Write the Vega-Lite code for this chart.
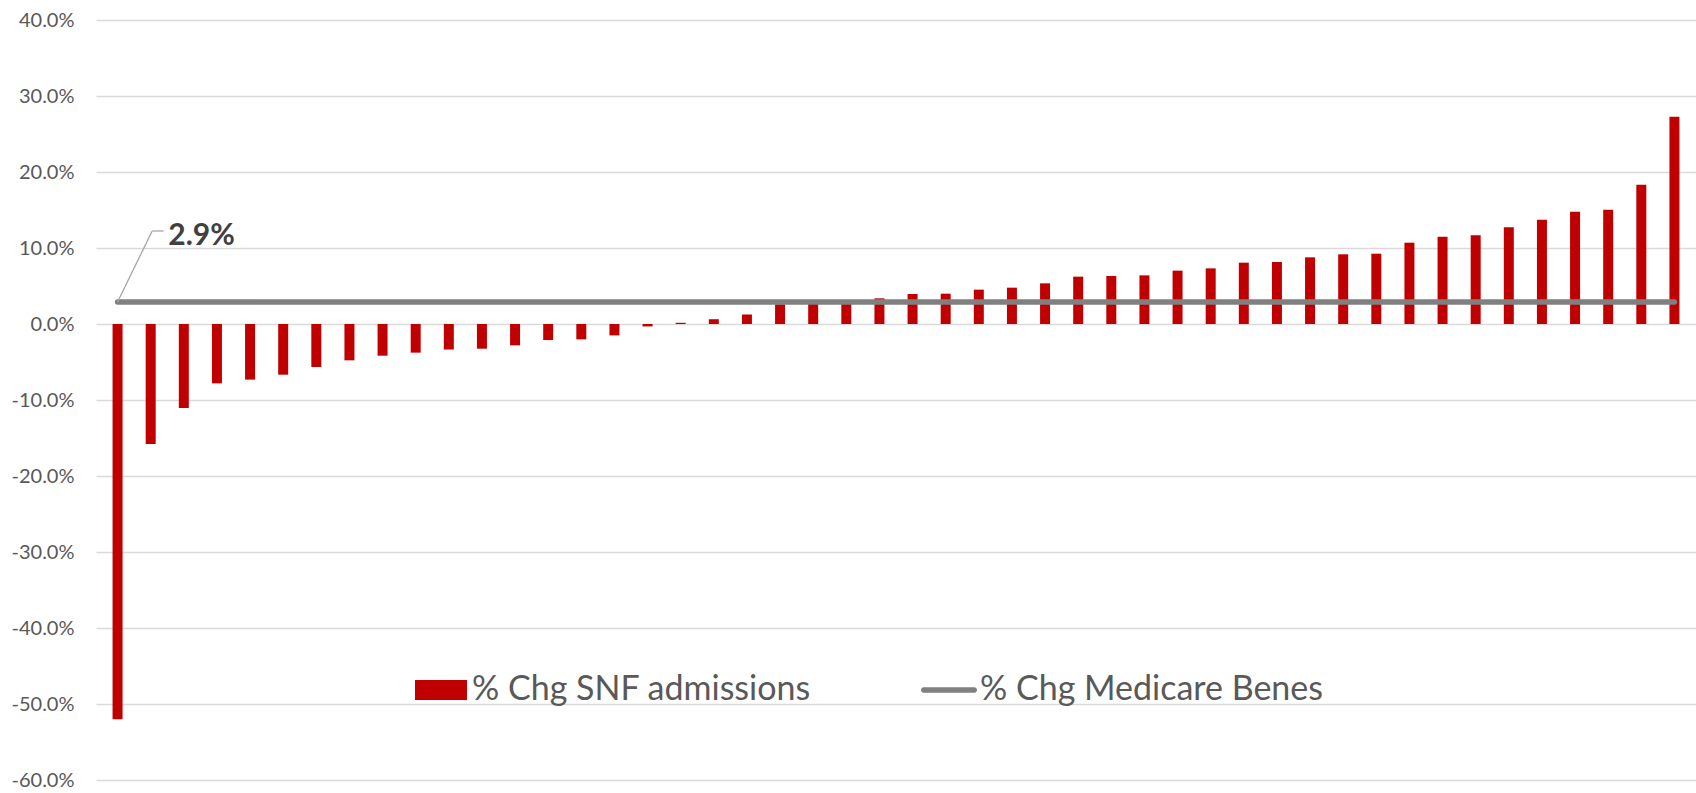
{
  "$schema": "https://vega.github.io/schema/vega-lite/v6.json",
  "width": 1600,
  "height": 760,
  "autosize": {"type": "none"},
  "padding": {"left": 96, "top": 20, "right": 0, "bottom": 13},
  "background": "white",
  "config": {"view": {"stroke": null}, "font": "Lato"},
  "datasets": {
    "snf": [
      {"rank": 1, "pct": -0.52},
      {"rank": 2, "pct": -0.158},
      {"rank": 3, "pct": -0.1105},
      {"rank": 4, "pct": -0.0781},
      {"rank": 5, "pct": -0.0732},
      {"rank": 6, "pct": -0.0667},
      {"rank": 7, "pct": -0.0566},
      {"rank": 8, "pct": -0.0478},
      {"rank": 9, "pct": -0.0417},
      {"rank": 10, "pct": -0.0377},
      {"rank": 11, "pct": -0.0336},
      {"rank": 12, "pct": -0.0325},
      {"rank": 13, "pct": -0.0281},
      {"rank": 14, "pct": -0.0211},
      {"rank": 15, "pct": -0.0202},
      {"rank": 16, "pct": -0.015},
      {"rank": 17, "pct": -0.0032},
      {"rank": 18, "pct": 0.0016},
      {"rank": 19, "pct": 0.0063},
      {"rank": 20, "pct": 0.0125},
      {"rank": 21, "pct": 0.026},
      {"rank": 22, "pct": 0.027},
      {"rank": 23, "pct": 0.029},
      {"rank": 24, "pct": 0.0338},
      {"rank": 25, "pct": 0.0395},
      {"rank": 26, "pct": 0.0399},
      {"rank": 27, "pct": 0.0452},
      {"rank": 28, "pct": 0.0478},
      {"rank": 29, "pct": 0.0535},
      {"rank": 30, "pct": 0.0623},
      {"rank": 31, "pct": 0.0632},
      {"rank": 32, "pct": 0.064},
      {"rank": 33, "pct": 0.0702},
      {"rank": 34, "pct": 0.0732},
      {"rank": 35, "pct": 0.0807},
      {"rank": 36, "pct": 0.0816},
      {"rank": 37, "pct": 0.0877},
      {"rank": 38, "pct": 0.0917},
      {"rank": 39, "pct": 0.0925},
      {"rank": 40, "pct": 0.107},
      {"rank": 41, "pct": 0.1149},
      {"rank": 42, "pct": 0.1167},
      {"rank": 43, "pct": 0.1272},
      {"rank": 44, "pct": 0.1373},
      {"rank": 45, "pct": 0.1478},
      {"rank": 46, "pct": 0.1504},
      {"rank": 47, "pct": 0.1833},
      {"rank": 48, "pct": 0.2728}
    ],
    "benes": [
      {"from": 1, "to": 48, "pct": 0.029}
    ]
  },
  "layer": [
    {
      "data": {"name": "snf"},
      "mark": {"type": "bar", "width": 10},
      "encoding": {
        "x": {
          "field": "rank",
          "type": "quantitative",
          "scale": {"domain": [0.5, 48.5], "nice": false, "zero": false},
          "axis": null
        },
        "y": {
          "field": "pct",
          "type": "quantitative",
          "scale": {"domain": [-0.6, 0.4], "nice": false},
          "axis": {
            "title": null,
            "domain": false,
            "ticks": false,
            "values": [-0.6, -0.5, -0.4, -0.3, -0.2, -0.1, 0, 0.1, 0.2, 0.3, 0.4],
            "labelExpr": "(datum.value < 0 ? '-' : '') + format(abs(datum.value), '.1%')",
            "labelFont": "Lato",
            "labelFontSize": 20,
            "labelColor": "#595959",
            "labelPadding": 22,
            "gridColor": "#d9d9d9",
            "gridWidth": 1.3
          }
        },
        "color": {
          "datum": "% Chg SNF admissions",
          "type": "nominal",
          "scale": {
            "domain": ["% Chg SNF admissions", "% Chg Medicare Benes"],
            "range": ["#c00000", "#808080"]
          },
          "legend": {
            "title": null,
            "orient": "none",
            "legendX": 318,
            "legendY": 643,
            "direction": "horizontal",
            "labelFont": "Lato",
            "labelFontSize": 34,
            "labelColor": "#595959",
            "labelOffset": 4,
            "labelLimit": 0,
            "symbolSize": 2916,
            "symbolStrokeWidth": 0,
            "columnPadding": 110,
            "encode": {
              "symbols": {
                "update": {
                  "shape": {"signal": "datum.value === '% Chg SNF admissions' ? 'M-0.963,-0.37H0.963V0.37H-0.963Z' : 'M-0.937,-0.1H0.937A0.1,0.1 0 0 1 0.937,0.1H-0.937A0.1,0.1 0 0 1 -0.937,-0.1Z'"},
                  "opacity": {"value": 1}
                }
              }
            }
          }
        }
      }
    },
    {
      "data": {"name": "benes"},
      "mark": {"type": "rule", "color": "#808080", "strokeWidth": 5.5, "strokeCap": "round"},
      "encoding": {
        "x": {"field": "from", "type": "quantitative"},
        "x2": {"field": "to"},
        "y": {"field": "pct", "type": "quantitative"}
      }
    },
    {
      "data": {"name": "benes"},
      "mark": {"type": "rule", "color": "#a6a6a6", "strokeWidth": 1.3},
      "encoding": {
        "x": {"field": "from", "type": "quantitative"},
        "y": {"field": "pct", "type": "quantitative"},
        "x2": {"datum": 2.045},
        "y2": {"datum": 0.1224}
      }
    },
    {
      "data": {"name": "benes"},
      "mark": {"type": "rule", "color": "#a6a6a6", "strokeWidth": 1.3},
      "encoding": {
        "x": {"datum": 2.045, "type": "quantitative"},
        "x2": {"datum": 2.39},
        "y": {"datum": 0.1224, "type": "quantitative"}
      }
    },
    {
      "data": {"name": "benes"},
      "mark": {"type": "text", "align": "left", "baseline": "middle", "font": "Lato", "fontWeight": "bold", "fontSize": 30, "color": "#404040"},
      "encoding": {
        "x": {"datum": 2.53, "type": "quantitative"},
        "y": {"datum": 0.116, "type": "quantitative"},
        "text": {"field": "pct", "type": "quantitative", "format": ".1%"}
      }
    }
  ]
}
